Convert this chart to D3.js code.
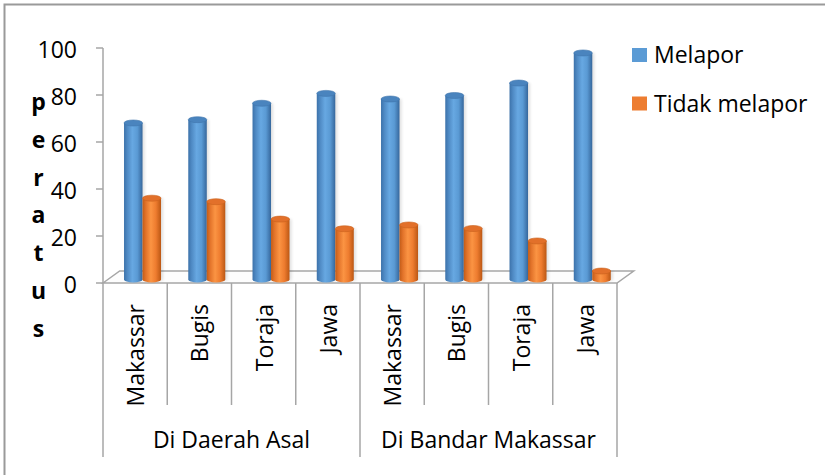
<!DOCTYPE html>
<html>
<head>
<meta charset="utf-8">
<script src="https://cdn.jsdelivr.net/npm/d3@7"></script>
<style>
  body { margin: 0; background: #fff; }
  svg text { font-family: "Open Sans", "Noto Sans", sans-serif; fill: #000; }
</style>
</head>
<body>
<div id="chart"></div>
<script>
// data
const groups = ["Di Daerah Asal", "Di Bandar Makassar"];
const categories = ["Makassar", "Bugis", "Toraja", "Jawa", "Makassar", "Bugis", "Toraja", "Jawa"];
const melapor = [66.6, 68, 75, 79.2, 76.8, 78.3, 83.6, 96.4];
const tidakMelapor = [34.6, 33.1, 25.7, 21.6, 23.2, 21.7, 16.4, 3.6];
const seriesNames = ["Melapor", "Tidak melapor"];
const yTicks = [0, 20, 40, 60, 80, 100];
const axisTitle = "peratus";

(function(){
    const width = 825, height = 475;
    const colors = ["#5b9bd5", "#ed7d31"];

    const svg = d3.select("#chart").append("svg")
        .attr("width", width)
        .attr("height", height);

    const defs = svg.append("defs");
    const grads = [
        [["0%", "#3c72aa"], ["18%", "#4f8ac4"], ["45%", "#67a8e2"], ["72%", "#5a9ad4"], ["100%", "#36679c"]],
        [["0%", "#c25c17"], ["18%", "#e2732a"], ["45%", "#fb9443"], ["72%", "#ee7c2f"], ["100%", "#bb5714"]]
    ];
    grads.forEach((stops, i) => {
        const g = defs.append("linearGradient").attr("id", "cyl" + i)
            .attr("x1", "0%").attr("x2", "100%").attr("y1", "0%").attr("y2", "0%");
        stops.forEach(s => g.append("stop").attr("offset", s[0]).attr("stop-color", s[1]));
    });
    const sh = defs.append("filter").attr("id", "shadow")
        .attr("x", "-30%").attr("y", "-10%").attr("width", "160%").attr("height", "120%");
    sh.append("feGaussianBlur").attr("stdDeviation", 1.5);

    // chart border (only top and left fall inside the picture)
    svg.append("path")
        .attr("d", "M4.5,478 L4.5,4.5 L830,4.5")
        .attr("fill", "none")
        .attr("stroke", "#9a9a9a")
        .attr("stroke-width", 2);

    const x = d3.scaleBand().domain(d3.range(categories.length)).range([103, 617]);
    const y = d3.scaleLinear().domain([0, 100]).range([283, 48]);
    const depthX = 16.7, depthY = -12;
    const barShiftX = 7.4, barShiftY = -3.5;
    const barW = 18.5, ry = 3;

    // floor
    const x0 = x.range()[0], x1 = x.range()[1], yf = y(0);
    svg.append("path")
        .attr("d", `M${x0},${yf} L${x0 + depthX},${yf + depthY} L${x1 + depthX},${yf + depthY} L${x1},${yf} Z`)
        .attr("fill", "#fdfdfd")
        .attr("stroke", "#a6a6a6")
        .attr("stroke-width", 1.5);

    // value axis
    svg.append("line")
        .attr("x1", x0).attr("x2", x0)
        .attr("y1", y(100)).attr("y2", 457)
        .attr("stroke", "#a6a6a6").attr("stroke-width", 1.5);
    const ticks = svg.append("g");
    ticks.selectAll("line").data(yTicks).enter().append("line")
        .attr("x1", x0 - 7).attr("x2", x0)
        .attr("y1", d => y(d)).attr("y2", d => y(d))
        .attr("stroke", "#a6a6a6").attr("stroke-width", 1.5);
    ticks.selectAll("text").data(yTicks).enter().append("text")
        .attr("x", 77)
        .attr("y", d => y(d) + 10)
        .attr("text-anchor", "end")
        .style("font-size", "23px")
        .text(d => d);

    // stacked letters of the axis title
    svg.append("g").selectAll("text")
        .data(axisTitle.split(""))
        .enter().append("text")
        .attr("x", 38.5)
        .attr("y", (d, i) => 110 + i * 37.8)
        .attr("text-anchor", "middle")
        .style("font-size", "23px")
        .style("font-weight", "bold")
        .text(d => d);

    // cylinders
    const bars = [];
    categories.forEach((c, i) => {
        [melapor[i], tidakMelapor[i]].forEach((v, s) => {
            const cx = x(i) + x.bandwidth() / 2 + barShiftX + (s - 0.5) * barW;
            bars.push({ cx: cx, s: s, v: v });
        });
    });
    const yBase = y(0) + barShiftY;
    const cyl = svg.append("g").selectAll("g").data(bars).enter().append("g");
    cyl.append("rect")
        .attr("x", d => d.cx - barW / 2 + 2)
        .attr("y", d => y(d.v) + barShiftY)
        .attr("width", barW)
        .attr("height", d => yBase - (y(d.v) + barShiftY) + 1)
        .attr("fill", "#000")
        .attr("opacity", 0.12)
        .attr("filter", "url(#shadow)");
    cyl.append("path")
        .attr("d", d => {
            const l = d.cx - barW / 2, r = d.cx + barW / 2, t = y(d.v) + barShiftY;
            return `M${l},${t} L${l},${yBase} A${barW / 2},${ry} 0 0 0 ${r},${yBase} L${r},${t} Z`;
        })
        .attr("fill", d => `url(#cyl${d.s})`);
    cyl.append("ellipse")
        .attr("cx", d => d.cx)
        .attr("cy", d => y(d.v) + barShiftY)
        .attr("rx", barW / 2)
        .attr("ry", ry)
        .attr("fill", d => d.s === 0 ? "#4a84be" : "#e2702a")
        .attr("stroke", d => d.s === 0 ? "#3f76ad" : "#c9621d")
        .attr("stroke-width", 0.6);

    // category table below the floor
    const divs = svg.append("g");
    d3.range(1, categories.length).forEach(i => {
        const isGroup = i % 4 === 0;
        divs.append("line")
            .attr("x1", x(i)).attr("x2", x(i))
            .attr("y1", yf).attr("y2", isGroup ? 457 : 405)
            .attr("stroke", "#a6a6a6").attr("stroke-width", 1.5);
    });
    divs.append("line")
        .attr("x1", x1).attr("x2", x1)
        .attr("y1", yf).attr("y2", 457)
        .attr("stroke", "#a6a6a6").attr("stroke-width", 1.5);

    svg.append("g").selectAll("text")
        .data(categories)
        .enter().append("text")
        .attr("transform", (d, i) => `translate(${x(i) + x.bandwidth() / 2 + 9},304) rotate(-90)`)
        .attr("text-anchor", "end")
        .style("font-size", "23px")
        .text(d => d);

    svg.append("g").selectAll("text")
        .data(groups)
        .enter().append("text")
        .attr("x", (d, i) => x(i * 4) + x.bandwidth() * 2)
        .attr("y", 448)
        .attr("text-anchor", "middle")
        .style("font-size", "23px")
        .text(d => d);

    // legend
    const legend = svg.append("g").selectAll("g")
        .data(seriesNames)
        .enter().append("g")
        .attr("transform", (d, i) => `translate(632,${48 + i * 48.5})`);
    legend.append("rect")
        .attr("width", 15).attr("height", 14)
        .attr("fill", (d, i) => colors[i]);
    legend.append("text")
        .attr("x", 22).attr("y", 15)
        .style("font-size", "23px")
        .text(d => d);
})();
</script>
</body>
</html>
